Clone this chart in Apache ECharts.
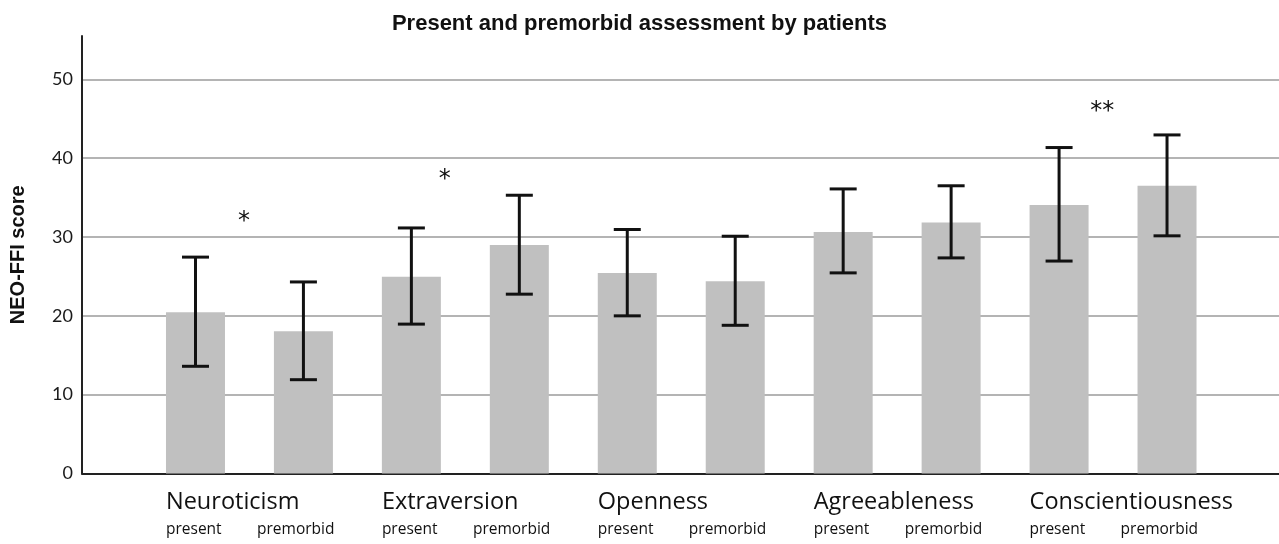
<!DOCTYPE html>
<html>
<head>
<meta charset="utf-8">
<script src="https://cdn.jsdelivr.net/npm/echarts@6/dist/echarts.min.js"></script>
<style>
  html, body { margin: 0; padding: 0; background: #fff; }
  #chart { width: 1279px; height: 544px; }
</style>
</head>
<body>
<div id="chart"></div>
<script>
// five NEO-FFI traits, each shown as present / premorbid
const traits = ['Neuroticism', 'Extraversion', 'Openness', 'Agreeableness', 'Conscientiousness']
const conditions = ['present', 'premorbid']

// bar order: N present, N premorbid, E present, ...
const means = [20.45, 18.05, 24.95, 29.0, 25.45, 24.4, 30.65, 31.85, 34.05, 36.5]
const upper = [27.45, 24.3, 31.15, 35.3, 30.95, 30.1, 36.1, 36.5, 41.35, 42.95]
const lower = [13.6, 11.9, 18.95, 22.75, 20.0, 18.8, 25.45, 27.35, 26.95, 30.15]

// significance stars: bar index, shift toward next bar (in bars), height
const sigBar = [0, 2, 8]
const sigShift = [0.45, 0.31, 0.40]
const sigY = [32.7, 38.0, 46.6]
const sigText = ['*', '*', '**']

const yMax = 55.5
const yStep = 10

const barNames = []
traits.forEach((t) => conditions.forEach((c) => barNames.push(t + ' ' + c)))

const chart = echarts.init(document.getElementById('chart'), null, { renderer: 'canvas' })

const ink = '#111'
const gridTop = 36
const gridBottom = 70.5

const barData = means.map((v, i) => {
  const isPresent = i % 2 === 0
  return {
    value: v,
    label: isPresent
      ? { align: 'left', offset: [-29.5, 14] }
      : { align: 'right', offset: [31, 44] },
  }
})

const option = {
  animation: false,
  title: {
    text: 'Present and premorbid assessment by patients',
    left: 'center',
    top: 13,
    padding: 0,
    textStyle: { fontFamily: 'Liberation Sans', fontWeight: 'bold', fontSize: 22, color: ink },
  },
  grid: [
    { left: 82, right: 0, top: gridTop, bottom: gridBottom },
    { left: 141.5, right: 58, top: gridTop, bottom: gridBottom },
  ],
  xAxis: [
    {
      gridIndex: 0,
      type: 'value',
      min: 0,
      max: 1,
      axisLine: { show: true, onZero: false, lineStyle: { color: '#222', width: 2 } },
      axisTick: { show: false },
      axisLabel: { show: false },
      splitLine: { show: false },
    },
    {
      gridIndex: 1,
      type: 'category',
      data: barNames,
      axisLine: { show: false },
      axisTick: { show: false },
      axisLabel: { show: false },
      splitLine: { show: false },
    },
  ],
  yAxis: [
    {
      gridIndex: 0,
      type: 'value',
      min: 0,
      max: yMax,
      interval: yStep,
      name: 'NEO-FFI score',
      nameLocation: 'middle',
      nameGap: 54,
      nameTextStyle: { fontFamily: 'Liberation Sans', fontWeight: 'bold', fontSize: 20, color: ink },
      axisLine: { show: true, lineStyle: { color: '#222', width: 2 } },
      axisTick: { show: false },
      axisLabel: { fontFamily: 'Lato', fontSize: 18, color: '#1a1a1a', margin: 9, showMaxLabel: false },
      splitLine: {
        show: true,
        showMinLine: false,
        showMaxLine: false,
        lineStyle: { color: '#b4b4b4', width: 2 },
      },
    },
    { gridIndex: 1, type: 'value', min: 0, max: yMax, show: false },
  ],
  series: [
    {
      type: 'bar',
      xAxisIndex: 1,
      yAxisIndex: 1,
      barWidth: 59,
      itemStyle: { color: '#c0c0c0' },
      label: {
        show: true,
        position: 'bottom',
        distance: 0,
        formatter: (p) => {
          const t = traits[Math.floor(p.dataIndex / 2)]
          return p.dataIndex % 2 === 0 ? '{g|' + t + '}\n{s|present}' : '{s|premorbid}'
        },
        rich: {
          g: { fontFamily: 'Open Sans', fontSize: 23.5, lineHeight: 30, color: ink, align: 'left' },
          s: { fontFamily: 'Open Sans', fontSize: 15.5, lineHeight: 24, color: ink, align: 'left' },
        },
      },
      data: barData,
    },
    {
      // error bars
      type: 'custom',
      xAxisIndex: 1,
      yAxisIndex: 1,
      z: 3,
      data: means.map((m, i) => [i, lower[i], upper[i]]),
      renderItem: (params, api) => {
        const lo = api.coord([api.value(0), api.value(1)])
        const hi = api.coord([api.value(0), api.value(2)])
        const hw = 13.5
        const style = { stroke: ink, lineWidth: 3 }
        return {
          type: 'group',
          children: [
            { type: 'line', shape: { x1: lo[0], y1: lo[1], x2: hi[0], y2: hi[1] }, style },
            { type: 'line', shape: { x1: lo[0] - hw, y1: lo[1], x2: lo[0] + hw, y2: lo[1] }, style },
            { type: 'line', shape: { x1: hi[0] - hw, y1: hi[1], x2: hi[0] + hw, y2: hi[1] }, style },
          ],
        }
      },
    },
    {
      // significance markers
      type: 'custom',
      xAxisIndex: 1,
      yAxisIndex: 1,
      z: 4,
      data: sigBar.map((b, i) => [b, sigY[i]]),
      renderItem: (params, api) => {
        const p = api.coord([api.value(0), api.value(1)])
        const band = api.size([1, 0])[0]
        return {
          type: 'text',
          x: p[0] + band * sigShift[params.dataIndex],
          y: p[1] + 6,
          style: {
            text: sigText[params.dataIndex],
            fontFamily: 'DejaVu Sans',
            fontSize: 24,
            fill: ink,
            align: 'center',
            verticalAlign: 'middle',
          },
        }
      },
    },
  ],
}

chart.setOption(option)
</script>
</body>
</html>
